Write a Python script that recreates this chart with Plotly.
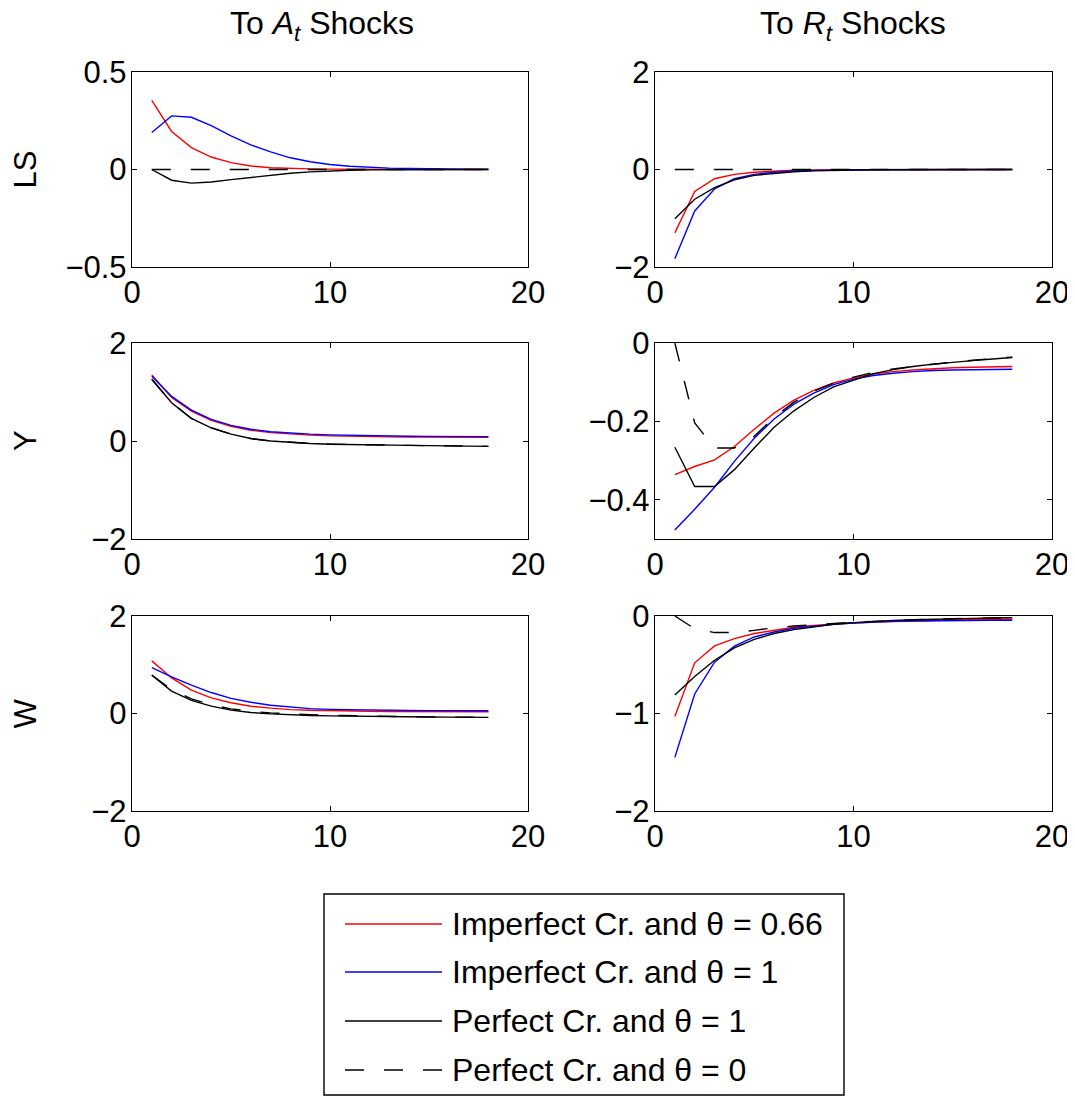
import plotly.graph_objects as go

# page body adds an 8px margin; build the figure so the visible layout matches
OFF = 8
W, H = 1075 - OFF, 1097 - OFF

periods = list(range(1, 19))

# ---- LS, A shocks
ls_a_red = [0.354, 0.195, 0.112, 0.064, 0.035, 0.018, 0.009, 0.005, 0.003, 0.002, 0.001, 0.001, 0, 0, 0, 0, 0, 0]
ls_a_blue = [0.19, 0.275, 0.268, 0.225, 0.173, 0.126, 0.09, 0.06, 0.04, 0.026, 0.017, 0.011, 0.007, 0.005, 0.003, 0.002, 0.001, 0.001]
ls_a_black = [0, -0.055, -0.07, -0.064, -0.052, -0.04, -0.028, -0.019, -0.012, -0.007, -0.004, -0.002, -0.001, 0, 0, 0, 0, 0]
ls_a_dash = [0] * 18
# ---- LS, R shocks
ls_r_red = [-1.30, -0.45, -0.19, -0.10, -0.055, -0.03, -0.016, -0.008, -0.004, -0.002, -0.001, 0, 0, 0, 0, 0, 0, 0]
ls_r_blue = [-1.83, -0.85, -0.40, -0.19, -0.10, -0.055, -0.03, -0.016, -0.008, -0.004, -0.002, -0.001, 0, 0, 0, 0, 0, 0]
ls_r_black = [-1.01, -0.61, -0.37, -0.21, -0.12, -0.075, -0.045, -0.028, -0.017, -0.01, -0.006, -0.004, -0.002, -0.001, 0, 0, 0, 0]
ls_r_dash = [0] * 18
# ---- Y, A shocks
y_a_red = [1.35, 0.89, 0.61, 0.42, 0.30, 0.22, 0.17, 0.14, 0.12, 0.105, 0.095, 0.09, 0.085, 0.082, 0.08, 0.078, 0.076, 0.075]
y_a_blue = [1.32, 0.91, 0.63, 0.44, 0.32, 0.24, 0.19, 0.16, 0.14, 0.125, 0.115, 0.107, 0.101, 0.097, 0.094, 0.092, 0.09, 0.089]
y_a_black = [1.26, 0.78, 0.46, 0.27, 0.14, 0.05, 0.0, -0.03, -0.05, -0.065, -0.075, -0.08, -0.085, -0.09, -0.095, -0.1, -0.105, -0.11]
y_a_dash = [1.26, 0.78, 0.46, 0.27, 0.14, 0.05, 0.0, -0.03, -0.05, -0.065, -0.075, -0.08, -0.085, -0.09, -0.095, -0.1, -0.105, -0.11]
# ---- Y, R shocks
y_r_red = [-0.336, -0.315, -0.298, -0.264, -0.22, -0.179, -0.146, -0.121, -0.102, -0.089, -0.079, -0.073, -0.069, -0.066, -0.063, -0.062, -0.061, -0.06]
y_r_blue = [-0.477, -0.424, -0.368, -0.302, -0.243, -0.194, -0.156, -0.128, -0.106, -0.092, -0.083, -0.077, -0.073, -0.07, -0.069, -0.068, -0.067, -0.067]
y_r_black = [-0.266, -0.366, -0.366, -0.323, -0.268, -0.215, -0.173, -0.139, -0.112, -0.094, -0.078, -0.068, -0.06, -0.054, -0.049, -0.045, -0.041, -0.037]
y_r_dash = [0.0, -0.204, -0.268, -0.268, -0.238, -0.19, -0.151, -0.123, -0.102, -0.087, -0.075, -0.066, -0.06, -0.054, -0.049, -0.044, -0.04, -0.036]
# ---- W, A shocks
w_a_red = [1.08, 0.73, 0.48, 0.32, 0.22, 0.15, 0.11, 0.08, 0.068, 0.057, 0.05, 0.045, 0.042, 0.04, 0.038, 0.037, 0.036, 0.035]
w_a_blue = [0.94, 0.75, 0.58, 0.43, 0.31, 0.23, 0.17, 0.13, 0.10, 0.085, 0.075, 0.068, 0.063, 0.06, 0.058, 0.057, 0.056, 0.055]
w_a_black = [0.785, 0.46, 0.27, 0.15, 0.07, 0.02, -0.007, -0.027, -0.04, -0.048, -0.055, -0.06, -0.065, -0.068, -0.071, -0.074, -0.077, -0.08]
w_a_dash = [0.79, 0.49, 0.30, 0.18, 0.095, 0.045, 0.012, -0.01, -0.025, -0.037, -0.047, -0.055, -0.061, -0.066, -0.07, -0.074, -0.077, -0.08]
# ---- W, R shocks
w_r_red = [-1.03, -0.48, -0.307, -0.232, -0.18, -0.147, -0.115, -0.096, -0.082, -0.072, -0.062, -0.055, -0.048, -0.045, -0.041, -0.038, -0.034, -0.031]
w_r_blue = [-1.45, -0.80, -0.474, -0.31, -0.215, -0.164, -0.126, -0.102, -0.085, -0.072, -0.062, -0.055, -0.051, -0.048, -0.047, -0.046, -0.045, -0.044]
w_r_black = [-0.81, -0.62, -0.454, -0.328, -0.24, -0.18, -0.14, -0.109, -0.085, -0.068, -0.055, -0.045, -0.038, -0.031, -0.027, -0.024, -0.02, -0.017]
w_r_dash = [0.0, -0.13, -0.17, -0.17, -0.147, -0.12, -0.103, -0.088, -0.075, -0.064, -0.055, -0.046, -0.039, -0.033, -0.028, -0.024, -0.019, -0.015]

series_names = ["Imperfect Cr. and \u03b8 = 0.66", "Imperfect Cr. and \u03b8 = 1",
                "Perfect Cr. and \u03b8 = 1", "Perfect Cr. and \u03b8 = 0"]
row_labels = ["LS", "Y", "W"]
col_titles = ["To <i>A</i><sub><i>t</i></sub> Shocks", "To <i>R</i><sub><i>t</i></sub> Shocks"]

x_ticks = [0, 10, 20]
panels = [
    # (row, col, data, yrange, yticks)
    (0, 0, [ls_a_red, ls_a_blue, ls_a_black, ls_a_dash], [-0.5, 0.5], [-0.5, 0, 0.5]),
    (0, 1, [ls_r_red, ls_r_blue, ls_r_black, ls_r_dash], [-2, 2], [-2, 0, 2]),
    (1, 0, [y_a_red, y_a_blue, y_a_black, y_a_dash], [-2, 2], [-2, 0, 2]),
    (1, 1, [y_r_red, y_r_blue, y_r_black, y_r_dash], [-0.5, 0], [-0.4, -0.2, 0]),
    (2, 0, [w_a_red, w_a_blue, w_a_black, w_a_dash], [-2, 2], [-2, 0, 2]),
    (2, 1, [w_r_red, w_r_blue, w_r_black, w_r_dash], [-2, 0], [-2, -1, 0]),
]

FONT = "Liberation Sans, Arial, Helvetica, sans-serif"
FS = 31
LW = 1.4
DASH = "19px,20px"
styles = [dict(color="#ff0000", width=LW), dict(color="#0000ff", width=LW),
          dict(color="#000000", width=LW), dict(color="#000000", width=LW, dash=DASH)]


def px(xs):
    return (xs - OFF) / W


def py(ys):
    return 1 - (ys - OFF) / H


col_px = [(132, 528), (655, 1052)]
row_px = [(72, 267), (343, 539), (616, 811)]

fig = go.Figure()
layout = {}
for i, (r, c, data, yr, yt) in enumerate(panels):
    n = i + 1
    xa = "x" if n == 1 else f"x{n}"
    ya = "y" if n == 1 else f"y{n}"
    for k, vals in enumerate(data):
        fig.add_trace(go.Scatter(x=periods, y=vals, mode="lines", line=styles[k],
                                 xaxis=xa, yaxis=ya, showlegend=False, name=series_names[k],
                                 hoverinfo="skip"))
    x0, x1 = col_px[c]
    y0, y1 = row_px[r]
    common = dict(showline=True, linecolor="black", linewidth=1.4, mirror="ticks",
                  ticks="inside", ticklen=5, tickwidth=1.3, tickcolor="black",
                  showgrid=False, zeroline=False, automargin=False,
                  tickfont=dict(family=FONT, size=FS, color="black"))
    layout["xaxis" if n == 1 else f"xaxis{n}"] = dict(
        domain=[px(x0), px(x1)], range=[0, 20], tickvals=x_ticks,
        anchor=ya, ticklabelstandoff=-2, **common)
    layout["yaxis" if n == 1 else f"yaxis{n}"] = dict(
        domain=[py(y1), py(y0)], range=yr, tickvals=yt,
        anchor=xa, ticklabelstandoff=-2, **common)

annotations = []
title_cx = [322, 853]
for c, t in enumerate(col_titles):
    annotations.append(dict(text=t, x=px(title_cx[c]), y=py(25), xref="paper", yref="paper",
                            xanchor="center", yanchor="middle", showarrow=False,
                            font=dict(family=FONT, size=32, color="black")))
for r, lab in enumerate(row_labels):
    cy = (row_px[r][0] + row_px[r][1]) / 2
    annotations.append(dict(text=lab, x=px(25), y=py(cy), xref="paper", yref="paper",
                            xanchor="center", yanchor="middle", textangle=-90, showarrow=False,
                            font=dict(family=FONT, size=FS, color="black")))

# manual legend
shapes = [dict(type="rect", xref="paper", yref="paper", x0=px(324), x1=px(844),
               y0=py(1095), y1=py(894), line=dict(color="black", width=1.4),
               fillcolor="white", layer="below")]
leg_y = [924, 972, 1021, 1070]
for k, name in enumerate(series_names):
    yy = py(leg_y[k])
    st = styles[k]
    shapes.append(dict(type="line", xref="paper", yref="paper", x0=px(345), x1=px(442),
                       y0=yy, y1=yy, line=dict(color=st["color"], width=LW,
                                               dash=st.get("dash", "solid"))))
    annotations.append(dict(text=name, x=px(450), y=yy, xref="paper", yref="paper",
                            xanchor="left", yanchor="middle", showarrow=False,
                            font=dict(family=FONT, size=32, color="black")))

fig.update_layout(width=W, height=H, margin=dict(l=0, r=0, t=0, b=0, autoexpand=False),
                  paper_bgcolor="white", plot_bgcolor="white",
                  annotations=annotations, shapes=shapes, showlegend=False, **layout)
fig.write_html("out.html")
